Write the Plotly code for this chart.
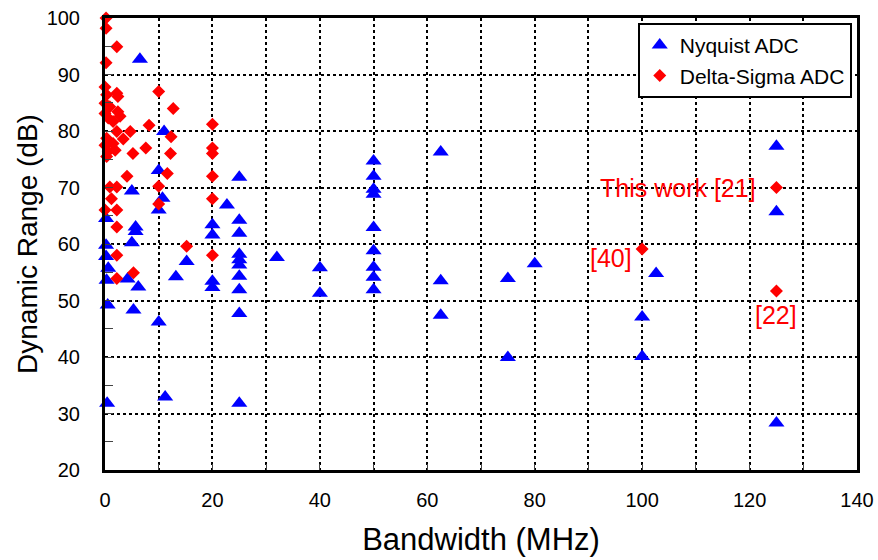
import plotly.graph_objects as go

# Nyquist ADC (bandwidth MHz, dynamic range dB)
nyq_bw = [6.5, 11, 10, 25, 5, 10.7, 10, 22.7, 0.2, 5.7, 5.7, 20, 20, 25, 25, 5,
          0.2, 0.2, 15.2, 0.6, 0.3, 4.2, 6.2, 13.2, 20, 20, 25, 25, 25, 25, 25, 25,
          32, 0.5, 5.3, 10, 0.4, 11.2, 25, 40, 40, 50, 50, 50, 50, 50, 50, 50, 50, 50,
          62.5, 62.5, 62.5, 75, 75, 80, 102.6, 100, 100, 125, 125, 125]
nyq_dr = [92.7, 79.9, 73, 71.8, 69.4, 68.1, 66, 66.9, 64.5, 63, 62.2, 63.4, 61.6, 64.2, 61.9, 60.2,
          59.8, 57.8, 56.9, 55.7, 53.6, 53.8, 52.4, 54.2, 53.4, 52.3, 58.2, 57.2, 56.3, 54.3, 51.9, 47.7,
          57.6, 49.2, 48.3, 46.2, 31.8, 32.9, 31.8, 55.8, 51.3, 74.7, 72, 69.7, 68.8, 62.9, 58.8, 55.9, 54.1, 51.9,
          76.3, 53.5, 47.4, 53.9, 39.9, 56.5, 54.8, 47.1, 40.1, 77.3, 65.7, 28.3]

# Delta-Sigma ADC
ds_bw = [0.2, 0.2, 2.2, 0.2, 0, 2.2, 0.3, 2.4, 0, 0.9, 2.4, 0, 2.8, 0.6, 1.5,
         2.2, 4.7, 3.4, 8.2, 5.2, 7.6, 4.1, 0.3, 1.5, 0, 1.9, 0.6, 0.3,
         0.9, 2.2, 1.2, 0, 2.2, 2.2, 2.2, 2.2, 5.3,
         10, 12.7, 12.3, 12.2, 11.6, 10, 10, 15.2,
         20, 20, 20, 20, 20, 20, 100, 125, 125]
ds_dr = [100, 98.2, 94.9, 92.1, 87.8, 86.7, 86.4, 86.1, 84.9, 84.3, 83.4, 83.1, 82.6, 82.3, 81.7,
         79.9, 79.9, 78.6, 81, 76, 77, 72, 78.7, 77.8, 77.5, 76.6, 76.4, 75.5,
         70.1, 70.1, 68, 66, 66, 63, 58, 53.9, 54.9,
         87, 84, 79, 76, 72.5, 70.2, 67.1, 59.6,
         81.2, 77, 76, 72, 68, 58, 59.1, 70, 51.7]

x_labels = [0, 20, 40, 60, 80, 100, 120, 140]
y_labels = [20, 30, 40, 50, 60, 70, 80, 90, 100]

font = "Arial, Liberation Sans, sans-serif"

fig = go.Figure()
fig.add_trace(go.Scatter(
    x=nyq_bw, y=nyq_dr, mode="markers", name="Nyquist ADC",
    marker=dict(symbol="triangle-up", size=14, color="#0000FF"),
    cliponaxis=False))
fig.add_trace(go.Scatter(
    x=ds_bw, y=ds_dr, mode="markers", name="Delta-Sigma ADC",
    marker=dict(symbol="diamond", size=10, color="#FF0000"),
    cliponaxis=False))

red_font = dict(family=font, size=25, color="#FF0000")
fig.add_annotation(x=121.5, y=70, text="This work [21]", showarrow=False,
                   xanchor="right", yanchor="middle", font=red_font)
fig.add_annotation(x=98.5, y=57.5, text="[40]", showarrow=False,
                   xanchor="right", yanchor="middle", font=red_font)
fig.add_annotation(x=125, y=47.4, text="[22]", showarrow=False,
                   xanchor="center", yanchor="middle", font=red_font)

fig.update_layout(
    width=878, height=560,
    margin=dict(l=105, r=21, t=18, b=90),
    paper_bgcolor="white", plot_bgcolor="white",
    font=dict(family=font, color="black"),
    legend=dict(x=0.993, y=0.989, xanchor="right", yanchor="top",
                bgcolor="white", bordercolor="black", borderwidth=2,
                font=dict(size=21), itemsizing="trace"),
    xaxis=dict(
        range=[0, 140], tickvals=x_labels, ticks="inside", ticklen=6,
        showline=True, linecolor="black", linewidth=3, mirror=True,
        showgrid=True, gridcolor="black", griddash="dot", gridwidth=1.5,
        zeroline=False, tickfont=dict(size=20), ticklabelstandoff=10,
        automargin=False,
        minor=dict(dtick=10, ticks="inside", ticklen=6, showgrid=True,
                   gridcolor="black", griddash="dot", gridwidth=1.5),
        title=dict(text="Bandwidth (MHz)", font=dict(size=31), standoff=19)),
    yaxis=dict(
        range=[20, 100], tickvals=y_labels, ticks="inside", ticklen=8,
        showline=True, linecolor="black", linewidth=3, mirror=True,
        showgrid=True, gridcolor="black", griddash="dot", gridwidth=1.5,
        zeroline=False, tickfont=dict(size=20), ticklabelstandoff=18,
        automargin=False,
        minor=dict(dtick=5, ticks="inside", ticklen=8, showgrid=False),
        title=dict(text="Dynamic Range (dB)", font=dict(size=28), standoff=1)),
)

# page body has a default 8px margin; drop it so the figure sits at 0,0
fig.write_html("out.html", config={"displayModeBar": False},
               post_script="document.body.style.margin='0';")
